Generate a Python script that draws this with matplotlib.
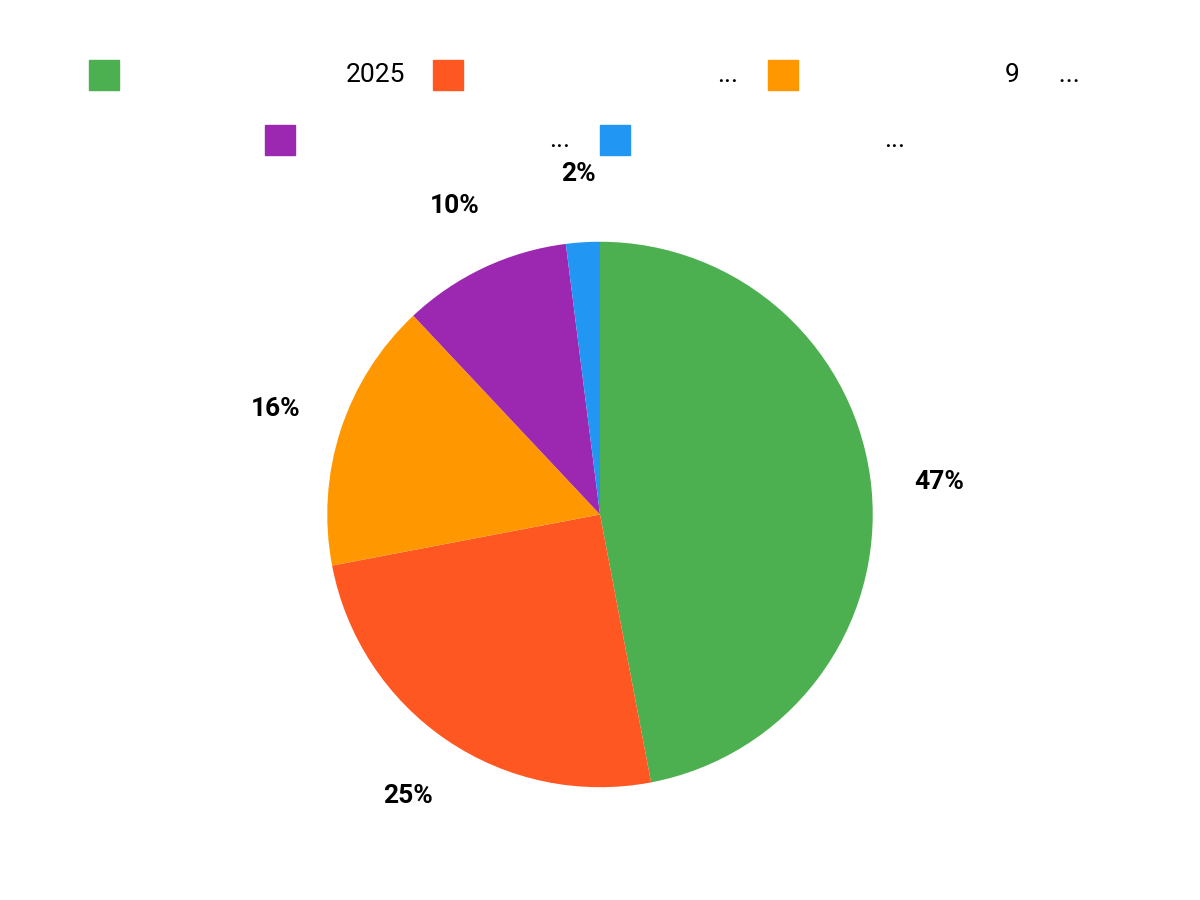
import matplotlib.pyplot as plt
from matplotlib.patches import Rectangle

# hodnoty (%)
hodnoty = [47, 25, 16, 10, 2]
barvy = ["#4CAF50", "#FF5722", "#FF9800", "#9C27B0", "#2196F3"]
# popisky legendy (v originále většina znaků chybí, zbylo jen toto)
popisky = ["2025", "...", "9      ...", "...", "..."]

plt.rcParams["font.family"] = ["Roboto", "DejaVu Sans"]

fig = plt.figure(figsize=(12, 9), dpi=100)
ax = fig.add_axes([0.25, 0.095, 0.5, 0.6667])
ax.pie(hodnoty, colors=barvy, startangle=90, counterclock=False,
       autopct="%1.0f%%", pctdistance=1.25,
       textprops=dict(fontsize=19, fontweight="bold"))
ax.set_xlim(-1.1, 1.1)
ax.set_ylim(-1.1, 1.1)
ax.set_aspect("equal")

# legenda ručně: (x čtverce, konec textu, y) v pixelech
leg_pos = [(89, 405, 75), (433, 738, 75), (768, 1080, 75),
           (265, 570, 140), (600, 905, 140)]
W, H = 1200, 900
for (x0, x1, y), c, t in zip(leg_pos, barvy, popisky):
    fig.patches.append(Rectangle((x0 / W, 1 - (y + 15) / H), 30 / W, 30 / H,
                                 color=c, transform=fig.transFigure))
    fig.text(x1 / W, 1 - y / H, t, ha="right", va="center", fontsize=19)

fig.savefig("out.png")
